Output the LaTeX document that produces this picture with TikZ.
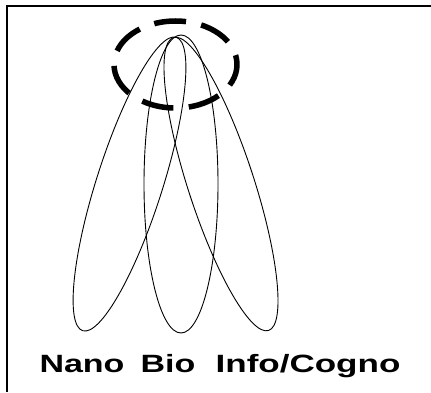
\documentclass[tikz,border=0pt]{standalone}
\usepackage{fontspec}
\setmainfont{Liberation Sans}
\begin{document}
\begin{tikzpicture}[x=1pt,y=1pt,
  frameline/.style={line width=2pt,black},
  petal/.style={line width=0.9pt,black},
  halo/.style={line width=5.5pt,black,dash pattern=on 32pt off 15.5pt,dash phase=22.5pt},
  lbl/.style={font=\fontsize{25}{28}\selectfont\bfseries,inner sep=0pt,anchor=base,xscale=1.36}]
\useasboundingbox (0,0) rectangle (431,392);
% frame (top and left edges)
\coordinate (tl) at (7,386);
\coordinate (tr) at (431,386);
\coordinate (bl) at (7,0);
\draw[frameline] (tr) -- (tl) -- (bl);
% three petals
\draw[petal,rotate around={72.3:(129.5,208)}] (129.5,208) ellipse [x radius=154, y radius=33];
\draw[petal] (181,208) ellipse [x radius=37, y radius=149];
\draw[petal,rotate around={108:(221,208)}] (221,208) ellipse [x radius=154, y radius=33];
% dashed halo
\draw[halo] (175.5,327.5) ellipse [x radius=61.5, y radius=43.5];
% labels
\node[lbl] (nano) at (82,20) {Nano};
\node[lbl] (bio) at (168,20) {Bio};
\node[lbl,xscale=1.03] (info) at (308,20) {Info/Cogno};
\end{tikzpicture}
\end{document}
